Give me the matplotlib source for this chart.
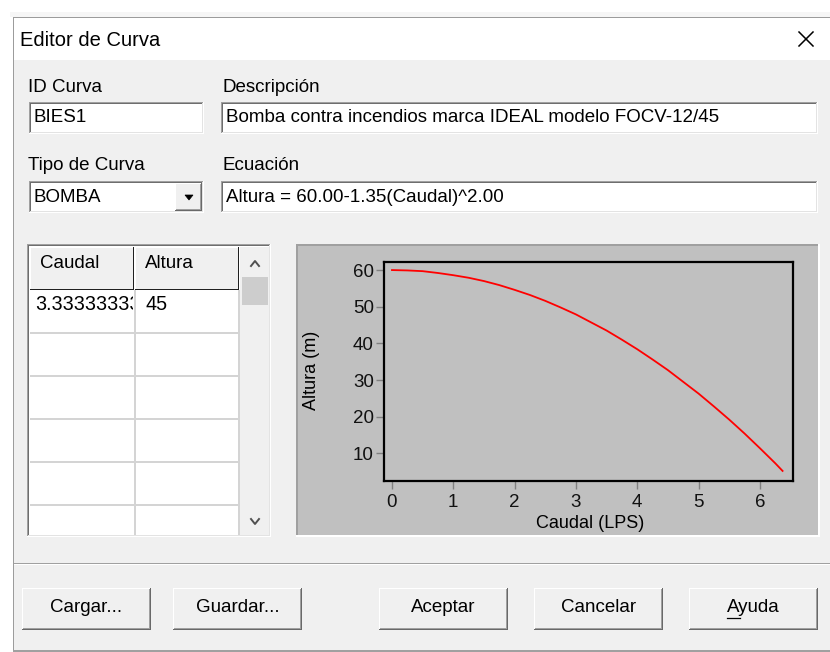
import matplotlib
matplotlib.use("Agg")
import matplotlib.pyplot as plt
from matplotlib.patches import Rectangle, Polygon

plt.rcParams["font.family"] = ["Liberation Sans", "DejaVu Sans"]

# textos del dialogo
titulo = "Editor de Curva"
etiquetas = ["ID Curva", "Descripción", "Tipo de Curva", "Ecuación"]
id_curva = "BIES1"
descripcion = "Bomba contra incendios marca IDEAL modelo FOCV-12/45"
tipo_curva = "BOMBA"
ecuacion = "Altura = 60.00-1.35(Caudal)^2.00"
columnas = ["Caudal", "Altura"]
tabla_caudal = ["3.33333333"]
tabla_altura = ["45"]
botones = ["Cargar...", "Guardar...", "Aceptar", "Cancelar", "Ayuda"]

# curva
caudal = [0.0, 0.25, 0.5, 0.75, 1.0, 1.25, 1.5, 1.75, 2.0, 2.25, 2.5, 2.75, 3.0,
          3.25, 3.5, 3.75, 4.0, 4.25, 4.5, 4.75, 5.0, 5.25, 5.5, 5.75, 6.0, 6.25, 6.37]
altura = [60.0, 59.9, 59.7, 59.2, 58.6, 57.9, 57.0, 55.9, 54.6, 53.2, 51.6, 49.8, 47.9,
          45.7, 43.5, 41.0, 38.4, 35.6, 32.7, 29.5, 26.3, 22.8, 19.2, 15.4, 11.4, 7.3, 5.2]
x_ticks = [0, 1, 2, 3, 4, 5, 6]
y_ticks = [10, 20, 30, 40, 50, 60]

W, H = 830, 652
FS = 13.5

fig = plt.figure(figsize=(W / 100, H / 100), dpi=100)
bg = fig.add_axes([0, 0, 1, 1])
bg.set_xlim(0, W)
bg.set_ylim(H, 0)
bg.axis("off")


def box(x0, y0, x1, y1, color, z=1):
    bg.add_patch(Rectangle((x0, y0), x1 - x0, y1 - y0, facecolor=color,
                           edgecolor="none", lw=0, zorder=z))


def sunken(x0, y0, x1, y1, fill="white"):
    box(x0, y0, x1, y1, fill)
    box(x0, y0, x1, y0 + 1, "#a0a0a0")
    box(x0, y0, x0 + 1, y1, "#a0a0a0")
    box(x0 + 1, y0 + 1, x1 - 1, y0 + 2, "#6e6e6e")
    box(x0 + 1, y0 + 1, x0 + 2, y1 - 1, "#6e6e6e")
    box(x0, y1 - 1, x1, y1, "#ffffff")
    box(x1 - 1, y0, x1, y1, "#ffffff")
    box(x0 + 1, y1 - 2, x1 - 1, y1 - 1, "#e3e3e3")
    box(x1 - 2, y0 + 1, x1 - 1, y1 - 1, "#e3e3e3")


def raised(x0, y0, x1, y1, fill="#f0f0f0"):
    box(x0, y0, x1, y1, fill)
    box(x0, y0, x1, y0 + 1, "#ffffff")
    box(x0, y0, x0 + 1, y1, "#ffffff")
    box(x0, y1 - 1, x1, y1, "#696969")
    box(x1 - 1, y0, x1, y1, "#696969")
    box(x0 + 1, y1 - 2, x1 - 1, y1 - 1, "#a0a0a0")
    box(x1 - 2, y0 + 1, x1 - 1, y1 - 1, "#a0a0a0")


# ventana
box(0, 0, W, H, "white")
box(10, 12, W, 17, "#f6f6f6")
box(13, 17, W, 18, "#9c9c9c")
box(13, 17, 14, H, "#9c9c9c")
box(14, 18, W, 60, "white")
box(14, 60, W, 650, "#f0f0f0")
box(13, 650, W, 652, "#a0a0a0")

bg.text(20, 40, titulo, fontsize=14.5, va="center", ha="left", color="black")
bg.plot([799, 813], [32, 46], color="black", lw=1.1)
bg.plot([799, 813], [46, 32], color="black", lw=1.1)

# etiquetas y campos
bg.text(28, 87, etiquetas[0], fontsize=FS, va="center")
bg.text(222, 87, etiquetas[1], fontsize=FS, va="center")
bg.text(28, 165, etiquetas[2], fontsize=FS, va="center")
bg.text(222, 165, etiquetas[3], fontsize=FS, va="center")

sunken(29, 102, 204, 134)
bg.text(33, 118, id_curva, fontsize=FS, va="center")
sunken(221, 102, 818, 134)
bg.text(226, 118, descripcion, fontsize=FS, va="center")

sunken(29, 181, 204, 213)
bg.text(33, 198, tipo_curva, fontsize=FS, va="center")
raised(175, 183, 202, 211)
bg.add_patch(Polygon([(185, 195), (193, 195), (189, 200)], closed=True,
                     facecolor="black", edgecolor="black", lw=0.5))
sunken(221, 181, 818, 213)
bg.text(226, 197, ecuacion, fontsize=FS, va="center")

# tabla
sunken(27, 244, 271, 537)
box(29, 246, 240, 535, "white")
col_x = [30, 135]
col_w = 104
for i, nombre in enumerate(columnas):
    x0 = col_x[i]
    box(x0, 247, x0 + col_w, 289, "#f0f0f0")
    box(x0, 247, x0 + col_w, 248, "white")
    box(x0, 247, x0 + 1, 289, "white")
    box(x0 + col_w - 1, 247, x0 + col_w, 290, "#202020")
    box(x0, 289, x0 + col_w, 290, "#202020")
    bg.text(x0 + 10, 263, nombre, fontsize=FS, va="center")

for y in [332, 375, 418, 461, 504]:
    box(30, y, 239, y + 2, "#d4d4d4")

for r, (qv, hv) in enumerate(zip(tabla_caudal, tabla_altura)):
    yc = 305 + r * 43
    bg.text(35, yc, qv, fontsize=14.2, va="center", zorder=3)
    # la celda recorta el texto largo
    box(133, 291 + r * 43, 144, 331 + r * 43, "white", z=4)
    bg.text(145, yc, hv, fontsize=14.2, va="center", zorder=5)

box(134, 290, 136, 535, "#d4d4d4", z=6)
box(238, 290, 240, 535, "#d4d4d4", z=6)

# barra de desplazamiento
box(240, 247, 269, 535, "#f0f0f0")
box(242, 277, 268, 305, "#cdcdcd")
bg.plot([251, 255, 259], [266, 261, 266], color="#505050", lw=1.4)
bg.plot([251, 255, 259], [519, 524, 519], color="#505050", lw=1.4)

# panel del grafico
box(296, 244, 820, 537, "#c0c0c0")
box(296, 244, 820, 246, "#a0a0a0")
box(296, 244, 298, 537, "#a0a0a0")
box(296, 535, 820, 537, "#ffffff")
box(818, 244, 820, 537, "#ffffff")

bg.text(590, 524, "Caudal (LPS)", fontsize=13, ha="center", va="center")
bg.text(311, 370, "Altura (m)", fontsize=13, ha="center", va="center", rotation=90)

# separador y botones
box(14, 563, W, 564, "#a0a0a0")
box(14, 564, W, 565, "#ffffff")
btn_x = [22, 173, 379, 534, 689]
btn_w = 129
for x0, label in zip(btn_x, botones):
    raised(x0, 588, x0 + btn_w, 630)
    t = bg.text(x0 + btn_w / 2, 608, label, fontsize=FS, ha="center", va="center")
    if label == "Ayuda":
        fig.canvas.draw()
        r = fig.canvas.get_renderer()
        bb = t.get_window_extent(r)
        a = bg.text(0, 0, "A", fontsize=FS)
        aw = a.get_window_extent(r).width
        a.remove()
        bg.plot([bb.x0, bb.x0 + aw], [617.5, 617.5], color="black", lw=0.9)

# ejes del grafico
L, T, R, B = 384, 262, 793, 481
ax = fig.add_axes([L / W, 1 - B / H, (R - L) / W, (B - T) / H])
ax.set_facecolor("#c0c0c0")
ax.plot(caudal, altura, color="#ff0000", lw=1.3)
ax.set_xlim(-0.13, 6.54)
ax.set_ylim(2.45, 62.2)
ax.set_xticks(x_ticks)
ax.set_yticks(y_ticks)
for s in ax.spines.values():
    s.set_color("black")
    s.set_linewidth(1.6)
ax.tick_params(axis="both", direction="out", length=5.8, width=1, color="#808080",
               labelsize=13.5, labelcolor="#111111")
ax.tick_params(axis="y", pad=1.5)
ax.tick_params(axis="x", pad=3.5)

fig.savefig("out.png", dpi=100)
